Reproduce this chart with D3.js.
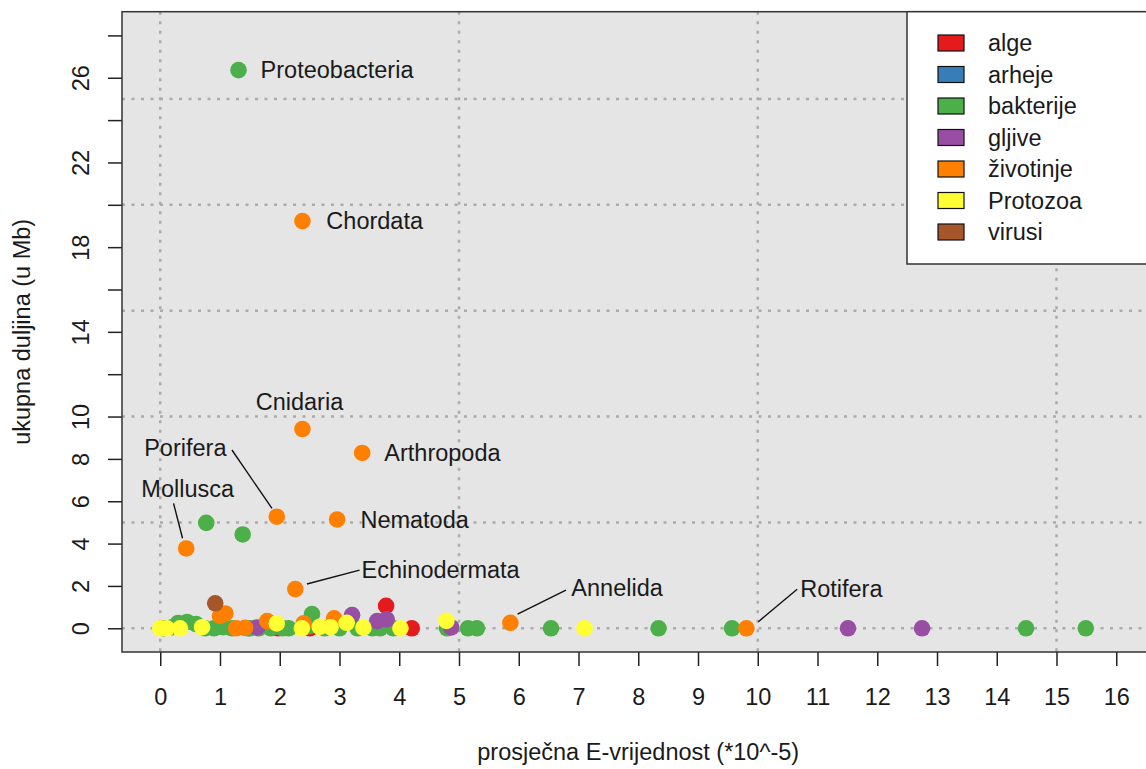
<!DOCTYPE html>
<html>
<head>
<meta charset="utf-8">
<script src="https://cdn.jsdelivr.net/npm/d3@7"></script>
<style>
  body { margin: 0; background: #fff; }
  text { font-family: "Liberation Sans", Arial, sans-serif; fill: #1a1a1a; }
</style>
</head>
<body>
<div id="chart"></div>
<script>
// groups in drawing order (legend order)
const groups = ["alge", "arheje", "bakterije", "gljive", "životinje", "Protozoa", "virusi"];
const groupColors = ["#E41A1C", "#377EB8", "#4DAF4A", "#984EA3", "#FF7F00", "#FFFF33", "#A65628"];

// average E-value (*10^-5) and total length (Mb) per group
const algeX = [1.97, 2.50, 3.78, 4.21];
const algeY = [0, 0, 1.06, 0];
const arhejeX = [1.47];
const arhejeY = [0];
const bakterijeX = [1.31, 0.77, 1.38, 2.54, 0.05, 0.20, 0.30, 0.45, 0.60, 0.75, 0.90, 1.05, 1.20, 1.50, 1.65, 1.85, 2.05, 2.15, 2.50, 2.75, 3.00, 3.30, 3.55, 3.68, 3.90, 4.80, 5.15, 5.30, 6.54, 8.34, 9.57, 14.49, 15.49];
const bakterijeY = [26.36, 4.98, 4.43, 0.67, 0, 0.05, 0.25, 0.30, 0.20, 0, 0, 0.05, 0, 0, 0, 0, 0, 0, 0.10, 0, 0, 0, 0, 0, 0, 0, 0, 0, 0, 0, 0, 0, 0];
const gljiveX = [1.62, 3.21, 3.63, 3.79, 4.87, 11.51, 12.75];
const gljiveY = [0.04, 0.62, 0.34, 0.42, 0.04, 0, 0];
const zivotinjeX = [2.38, 2.38, 3.38, 1.95, 0.435, 2.96, 2.26, 5.86, 9.81, 1.00, 1.09, 1.27, 1.42, 1.79, 2.40, 2.91];
const zivotinjeY = [19.23, 9.41, 8.28, 5.27, 3.77, 5.14, 1.85, 0.26, 0, 0.58, 0.70, 0, 0.02, 0.34, 0.23, 0.47];
const protozoaX = [0.00, 0.11, 0.33, 0.70, 1.95, 2.37, 2.67, 2.85, 3.12, 3.40, 4.02, 4.79, 7.10];
const protozoaY = [0, 0, 0, 0.05, 0.23, 0, 0.07, 0.05, 0.26, 0.03, 0, 0.35, 0];
const virusiX = [0.92];
const virusiY = [1.18];

const seriesX = [algeX, arhejeX, bakterijeX, gljiveX, zivotinjeX, protozoaX, virusiX];
const seriesY = [algeY, arhejeY, bakterijeY, gljiveY, zivotinjeY, protozoaY, virusiY];

// point labels, in data units (text anchor point and optional leader line)
const labelNames = ["Proteobacteria", "Chordata", "Cnidaria", "Arthropoda", "Nematoda", "Porifera", "Mollusca", "Echinodermata", "Annelida", "Rotifera"];
const labelX = [1.68, 2.78, 2.33, 3.75, 3.35, 0.42, 0.46, 3.37, 6.88, 10.71];
const labelY = [26.36, 19.23, 10.69, 8.28, 5.14, 8.52, 6.61, 2.78, 1.89, 1.88];
const labelAnchor = ["start", "start", "middle", "start", "start", "middle", "middle", "start", "start", "start"];
const leaders = [
  {from: [1.20, 8.42], to: [1.87, 5.66]},    // Porifera
  {from: [0.223, 5.90], to: [0.373, 4.25]},  // Mollusca
  {from: [2.455, 2.09], to: [3.336, 2.75]},  // Echinodermata
  {from: [5.98, 0.67], to: [6.79, 1.80]},    // Annelida
  {from: [10.01, 0.31], to: [10.66, 1.84]}   // Rotifera
];

const xTicks = d3.range(0, 17);
const yTicks = d3.range(0, 30, 2);
const yTickLabels = [0, 2, 4, 6, 8, 10, 14, 18, 22, 26];
const xGrid = [0, 5, 10, 15];
const yGrid = [0, 5, 10, 15, 20, 25];

const W = 1146, H = 769;
const pLeft = 122, pRight = 1154.5, pTop = 11.7, pBottom = 652;
const fs = 23.5;

const svg = d3.select("#chart").append("svg")
  .attr("width", W).attr("height", H);

const x = d3.scaleLinear().domain([-0.64, 16.64]).range([pLeft, pRight]);
const y = d3.scaleLinear().domain([-1.12, 29.12]).range([pBottom, pTop]);

// background
svg.append("rect")
  .attr("x", pLeft).attr("y", pTop)
  .attr("width", pRight - pLeft).attr("height", pBottom - pTop)
  .attr("fill", "#E5E5E5");

// dotted grid
svg.append("g").selectAll("line").data(yGrid).enter().append("line")
  .attr("x1", pLeft).attr("x2", pRight)
  .attr("y1", d => y(d)).attr("y2", d => y(d))
  .attr("stroke", "#ABABAB").attr("stroke-width", 2.5)
  .attr("stroke-dasharray", "3,6.5");
svg.append("g").selectAll("line").data(xGrid).enter().append("line")
  .attr("y1", pTop).attr("y2", pBottom)
  .attr("x1", d => x(d)).attr("x2", d => x(d))
  .attr("stroke", "#ABABAB").attr("stroke-width", 2.5)
  .attr("stroke-dasharray", "3,6.5");

// points
svg.append("clipPath").attr("id", "plotclip")
  .append("rect").attr("x", pLeft).attr("y", pTop)
  .attr("width", pRight - pLeft).attr("height", pBottom - pTop);

const pts = svg.append("g").attr("clip-path", "url(#plotclip)");
groups.forEach((g, i) => {
  const data = seriesX[i].map((v, j) => ({x: v, y: seriesY[i][j]}));
  pts.append("g").selectAll("circle").data(data).enter().append("circle")
    .attr("cx", d => x(d.x)).attr("cy", d => y(d.y))
    .attr("r", 8.3)
    .attr("fill", groupColors[i]);
});

// leader lines and labels
svg.append("g").selectAll("line").data(leaders).enter().append("line")
  .attr("x1", d => x(d.from[0])).attr("y1", d => y(d.from[1]))
  .attr("x2", d => x(d.to[0])).attr("y2", d => y(d.to[1]))
  .attr("stroke", "#111").attr("stroke-width", 1.4);

svg.append("g").selectAll("text").data(labelNames).enter().append("text")
  .attr("x", (d, i) => x(labelX[i]))
  .attr("y", (d, i) => y(labelY[i]))
  .attr("dy", "0.35em")
  .attr("text-anchor", (d, i) => labelAnchor[i])
  .style("font-size", fs + "px")
  .text(d => d);

// axes
const xAxis = svg.append("g")
  .attr("transform", "translate(0," + pBottom + ")")
  .call(d3.axisBottom(x).tickValues(xTicks).tickSize(14).tickPadding(22).tickFormat(d3.format("d")));
xAxis.select(".domain").remove();
xAxis.selectAll("line").attr("stroke", "#222").attr("stroke-width", 1.5);
xAxis.selectAll("text").style("font-size", fs + "px").attr("fill", "#1a1a1a")
  .style("font-family", "Liberation Sans, Arial, sans-serif");

const yAxis = svg.append("g")
  .attr("transform", "translate(" + pLeft + ",0)")
  .call(d3.axisLeft(y).tickValues(yTicks).tickSize(14)
    .tickFormat(d => yTickLabels.includes(d) ? d : ""));
yAxis.select(".domain").remove();
yAxis.selectAll("line").attr("stroke", "#222").attr("stroke-width", 1.5);
yAxis.selectAll("text")
  .attr("transform", "rotate(-90)")
  .attr("x", 0).attr("y", -33).attr("dy", 0)
  .attr("text-anchor", "middle")
  .attr("fill", "#1a1a1a")
  .style("font-size", fs + "px")
  .style("font-family", "Liberation Sans, Arial, sans-serif");

// plot frame
svg.append("rect")
  .attr("x", pLeft).attr("y", pTop)
  .attr("width", pRight - pLeft).attr("height", pBottom - pTop)
  .attr("fill", "none").attr("stroke", "#333").attr("stroke-width", 1.5);

// legend
const lg = svg.append("g");
lg.append("rect")
  .attr("x", 907).attr("y", pTop)
  .attr("width", pRight - 907).attr("height", 264 - pTop)
  .attr("fill", "#fff").attr("stroke", "#333").attr("stroke-width", 1.5);
const rowY = d3.scaleLinear().domain([0, 6]).range([43, 232]);
groups.forEach((g, i) => {
  lg.append("rect")
    .attr("x", 938).attr("y", rowY(i) - 8)
    .attr("width", 26).attr("height", 16)
    .attr("fill", groupColors[i]).attr("stroke", "#111").attr("stroke-width", 1.2);
  lg.append("text")
    .attr("x", 988).attr("y", rowY(i))
    .attr("dy", "0.35em")
    .style("font-size", fs + "px")
    .text(g);
});

// axis titles
svg.append("text")
  .attr("x", (pLeft + pRight) / 2).attr("y", 760)
  .attr("text-anchor", "middle")
  .style("font-size", fs + "px")
  .text("prosječna E-vrijednost (*10^-5)");
svg.append("text")
  .attr("transform", "translate(30," + (pTop + pBottom) / 2 + ") rotate(-90)")
  .attr("text-anchor", "middle")
  .style("font-size", fs + "px")
  .text("ukupna duljina (u Mb)");
</script>
</body>
</html>
